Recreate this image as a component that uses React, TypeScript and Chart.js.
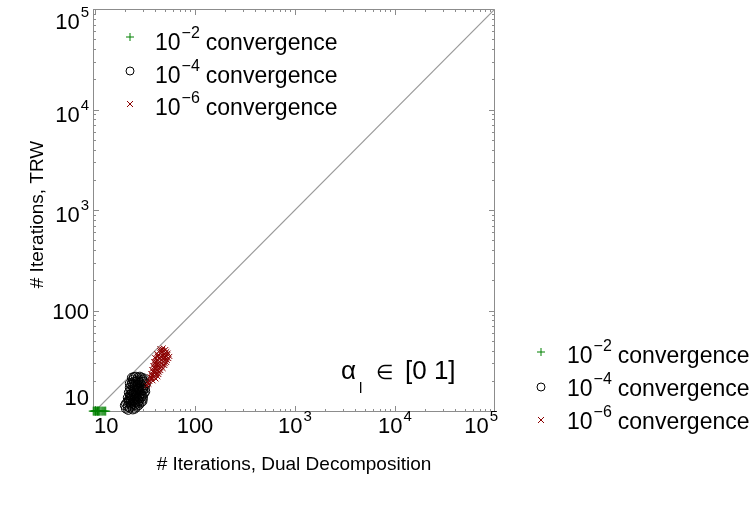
import { useEffect, useRef } from 'react';
import { Chart, registerables } from 'chart.js';

Chart.register(...registerables);

// ---- axis / tick data ----
const axisMin = 9.55;
const axisMinY = 9.8;
const axisMax = 100000;
const majorTicks = [10, 100, 1000, 10000, 100000];
const tickBase = ['10', '100', '10', '10', '10'];
const tickSup = ['', '', '3', '4', '5'];
const minorMultipliers = [2, 3, 4, 5, 6, 7, 8, 9];

// ---- legend data ----
const legendSup = ['\u22122', '\u22124', '\u22126'];
const legendText = 'convergence';

// ---- series (x = # iterations dual decomposition, y = # iterations TRW) ----
const conv2: [number, number][] = [
  [9.6, 10], [9.8, 10], [10.0, 10], [10.2, 10], [10.4, 10], [10.6, 10], [10.8, 10],
  [11.0, 10], [11.2, 10], [11.5, 10], [11.8, 10], [12.1, 10], [12.5, 10], [12.8, 10],
  [10.1, 10], [10.7, 10],
];

const conv4: [number, number][] = [
  [23.4, 21.5], [25.6, 22.0], [28.1, 22.0], [30.8, 21.1],
  [22.3, 18.8], [24.5, 19.7], [26.8, 19.2], [29.4, 19.7], [32.3, 18.8],
  [22.3, 17.1], [23.9, 17.5], [26.2, 17.1], [28.8, 17.5], [31.5, 16.7],
  [21.8, 15.3], [23.4, 15.6], [25.6, 15.3], [28.1, 15.6], [30.8, 14.9],
  [21.3, 13.6], [22.9, 13.9], [25.1, 13.6], [27.5, 13.9], [30.1, 13.3],
  [20.4, 11.9], [21.8, 12.4], [23.9, 12.2], [26.2, 12.4], [28.8, 12.2],
  [20.4, 10.6], [22.3, 10.8], [23.9, 10.4], [26.2, 11.1],
  [22.9, 11.6], [24.5, 14.6], [26.8, 16.4], [29.4, 14.3], [25.1, 18.4],
  [24.5, 21.8], [26.8, 21.5], [29.4, 21.5], [23.4, 19.2], [25.6, 19.7], [28.1, 19.2],
  [30.8, 19.7], [31.5, 18.0], [23.1, 18.2], [25.1, 17.5], [27.5, 17.1], [30.1, 17.1],
  [22.6, 16.2], [24.5, 16.0], [27.5, 16.0], [29.4, 16.0], [31.8, 15.6], [22.3, 14.5],
  [24.0, 15.0], [26.2, 14.6], [28.8, 14.9], [30.1, 14.0], [21.8, 13.0], [23.9, 13.3],
  [26.2, 13.3], [28.8, 13.6], [21.1, 12.2], [22.9, 12.8], [25.1, 12.4], [27.5, 12.6],
  [29.8, 12.5], [21.3, 11.1], [23.1, 11.3], [25.1, 11.5], [27.5, 11.5], [21.5, 10.3],
  [25.1, 10.6], [19.9, 11.4],
  [24.0, 20.6], [27.0, 20.3], [29.9, 20.4], [24.2, 18.6], [26.5, 18.3], [28.9, 18.4],
  [24.8, 16.7], [27.1, 16.6], [30.3, 16.2], [23.0, 14.8], [25.8, 14.2], [27.9, 14.6],
  [22.4, 13.4], [24.6, 13.0], [27.0, 13.1], [24.4, 11.8], [26.8, 11.9], [22.6, 11.9],
];

const conv6: [number, number][] = [
  [44.5, 40.0], [48.8, 40.0], [52.2, 39.1],
  [41.5, 37.3], [45.5, 37.3], [49.9, 36.5], [53.4, 36.5],
  [39.6, 34.1], [42.5, 34.9], [46.6, 34.1], [51.0, 34.1], [54.7, 33.3],
  [38.7, 31.1], [41.5, 31.8], [44.5, 31.1], [48.8, 31.1], [52.2, 30.4],
  [37.9, 28.4], [40.6, 29.0], [43.5, 28.4], [46.6, 27.7], [49.9, 28.4],
  [37.0, 25.9], [39.6, 26.5], [42.5, 25.9], [45.5, 25.3],
  [36.2, 23.6], [38.7, 24.2], [41.5, 23.6], [43.5, 23.1],
  [35.4, 22.0], [37.0, 21.1], [39.6, 21.5],
  [33.8, 19.2], [33.0, 17.9], [35.4, 19.7],
  [46.6, 39.1], [50.5, 38.0], [43.5, 36.0], [47.7, 35.6], [51.6, 35.2], [40.6, 33.3],
  [44.5, 33.3], [48.8, 33.3], [53.0, 32.0], [39.6, 30.0], [43.0, 30.0], [46.6, 29.7],
  [50.5, 29.6], [38.7, 27.2], [41.5, 27.5], [45.0, 26.8], [48.0, 26.5], [37.9, 24.8],
  [40.6, 24.8], [44.0, 24.4], [37.0, 22.6], [39.6, 22.6], [42.5, 22.0], [36.2, 20.6],
  [38.0, 20.0], [34.6, 18.5], [44.5, 42.0], [48.0, 42.5], [51.0, 41.0], [55.9, 35.0],
  [46.0, 38.3], [49.4, 37.2], [42.0, 35.5], [45.4, 35.0], [50.0, 34.6], [41.8, 32.5],
  [46.2, 32.4], [50.4, 32.4], [40.5, 31.0], [45.5, 30.2], [42.2, 28.8], [47.8, 28.9],
  [39.8, 27.9], [43.8, 27.3], [39.0, 25.5], [42.8, 25.0], [38.2, 23.0], [40.8, 23.2],
  [36.6, 21.6], [40.7, 20.9], [47.3, 41.1], [53.8, 37.8],
];

const diagonal: [number, number][] = [[axisMin, axisMin], [axisMax, axisMax]];

const FONT = "'Liberation Sans', Arial, Helvetica, sans-serif";
const GREEN = '#008000';
const RED = '#8b0000';
const AXIS = '#8c8c8c';

function toPts(a: [number, number][]) {
  return a.map(([x, y]) => ({ x, y }));
}

function drawSupText(
  ctx: CanvasRenderingContext2D, x: number, y: number, base: string, sup: string,
  align: 'left' | 'center' | 'right', baseSize: number, supSize: number, raise: number,
) {
  ctx.font = `${baseSize}px ${FONT}`;
  const wb = ctx.measureText(base).width;
  ctx.font = `${supSize}px ${FONT}`;
  const ws = sup ? ctx.measureText(sup).width + 1 : 0;
  const total = wb + ws;
  let sx = x;
  if (align === 'center') sx = x - total / 2;
  else if (align === 'right') sx = x - total;
  ctx.textAlign = 'left';
  ctx.textBaseline = 'alphabetic';
  ctx.font = `${baseSize}px ${FONT}`;
  ctx.fillText(base, sx, y);
  if (sup) {
    ctx.font = `${supSize}px ${FONT}`;
    ctx.fillText(sup, sx + wb + 1, y - raise);
  }
  return total;
}

function drawMarker(ctx: CanvasRenderingContext2D, kind: number, x: number, y: number) {
  ctx.save();
  ctx.lineWidth = 1;
  ctx.beginPath();
  if (kind === 0) {
    ctx.strokeStyle = GREEN;
    ctx.moveTo(x - 4, y); ctx.lineTo(x + 4, y);
    ctx.moveTo(x, y - 4); ctx.lineTo(x, y + 4);
  } else if (kind === 1) {
    ctx.strokeStyle = '#000';
    ctx.arc(x, y, 4, 0, Math.PI * 2);
  } else {
    ctx.strokeStyle = RED;
    ctx.moveTo(x - 3, y - 3); ctx.lineTo(x + 3, y + 3);
    ctx.moveTo(x + 3, y - 3); ctx.lineTo(x - 3, y + 3);
  }
  ctx.stroke();
  ctx.restore();
}

function drawLegend(ctx: CanvasRenderingContext2D, mx: number, tx: number, markerYs: number[], baseYs: number[]) {
  for (let i = 0; i < legendSup.length; i++) {
    drawMarker(ctx, i, mx, markerYs[i]);
    ctx.fillStyle = '#000';
    const w = drawSupText(ctx, tx, baseYs[i], '10', legendSup[i], 'left', 23, 16, 12);
    ctx.font = `23px ${FONT}`;
    ctx.fillText(legendText, tx + w + 6, baseYs[i]);
  }
}

const matlabPlugin = {
  id: 'matlabAxes',
  beforeDatasetsDraw(chart: any) {
    const { ctx, chartArea: a, scales } = chart;
    const xs = scales.x;
    const ys = scales.y;
    ctx.save();
    ctx.strokeStyle = AXIS;
    ctx.lineWidth = 1;
    ctx.strokeRect(a.left + 0.5, a.top + 0.5, a.right - a.left - 1, a.bottom - a.top - 1);
    const all: { v: number; major: boolean }[] = [];
    majorTicks.forEach((d) => {
      all.push({ v: d, major: true });
      if (d < axisMax) minorMultipliers.forEach((m) => all.push({ v: d * m, major: false }));
    });
    ctx.beginPath();
    all.forEach(({ v, major }) => {
      const len = major ? 6 : 3;
      const px = Math.round(xs.getPixelForValue(v)) + 0.5;
      if (px >= a.left && px <= a.right) {
        ctx.moveTo(px, a.bottom); ctx.lineTo(px, a.bottom - len);
        ctx.moveTo(px, a.top); ctx.lineTo(px, a.top + len);
      }
      const py = Math.round(ys.getPixelForValue(v)) + 0.5;
      if (py >= a.top && py <= a.bottom) {
        ctx.moveTo(a.left, py); ctx.lineTo(a.left + len, py);
        ctx.moveTo(a.right, py); ctx.lineTo(a.right - len, py);
      }
    });
    ctx.stroke();
    ctx.restore();
  },
  afterDatasetsDraw(chart: any) {
    const { ctx, chartArea: a, scales } = chart;
    const xs = scales.x;
    const ys = scales.y;
    ctx.save();
    ctx.fillStyle = '#000';
    // x tick labels
    majorTicks.forEach((v, i) => {
      const px = xs.getPixelForValue(v);
      if (i === 0) drawSupText(ctx, a.left + 1, 433, tickBase[i], tickSup[i], 'left', 22, 15, 12);
      else if (i === majorTicks.length - 1) drawSupText(ctx, a.right + 3, 433, tickBase[i], tickSup[i], 'right', 22, 15, 12);
      else drawSupText(ctx, px, 433, tickBase[i], tickSup[i], 'center', 22, 15, 12);
    });
    // y tick labels
    majorTicks.forEach((v, i) => {
      const py = ys.getPixelForValue(v);
      let base = py + (tickSup[i] ? 12 : 8);
      if (i === 0) base = py - 6;
      if (i === majorTicks.length - 1) base = py + 20;
      drawSupText(ctx, 89, base, tickBase[i], tickSup[i], 'right', 22, 15, 12);
    });
    // axis titles
    ctx.font = `19px ${FONT}`;
    ctx.textAlign = 'center';
    ctx.textBaseline = 'middle';
    ctx.fillText('# Iterations, Dual Decomposition', (a.left + a.right) / 2, 465);
    ctx.save();
    ctx.translate(38, (a.top + a.bottom) / 2 + 4);
    ctx.rotate(-Math.PI / 2);
    ctx.fillText('# Iterations, TRW', 0, 0);
    ctx.restore();
    // annotation
    ctx.textAlign = 'left';
    ctx.textBaseline = 'alphabetic';
    ctx.font = `26px ${FONT}`;
    ctx.fillText('\u03b1', 341, 379);
    ctx.font = `15px ${FONT}`;
    ctx.fillText('l', 359, 393);
    ctx.font = `20px ${FONT}`;
    ctx.fillText('\u2208', 376, 379);
    ctx.font = `26px ${FONT}`;
    ctx.fillText('[0 1]', 405, 379);
    // legends
    drawLegend(ctx, 130, 155, [37, 71, 104], [50, 83, 115]);
    drawLegend(ctx, 541, 567, [352, 387, 420], [363, 396, 429]);
    ctx.restore();
  },
};

export default function App() {
  const ref = useRef<HTMLCanvasElement | null>(null);
  useEffect(() => {
    document.body.style.margin = '0';
    const canvas = ref.current!;
    const chart = new Chart(canvas, {
      type: 'scatter',
      data: {
        datasets: [
          {
            label: 'diagonal', data: toPts(diagonal), showLine: true, borderColor: '#999999',
            borderWidth: 1.2, pointRadius: 0, order: 4,
          },
          {
            label: '10^-2 convergence', data: toPts(conv2), pointStyle: 'cross', pointRadius: 4.5,
            pointBorderColor: GREEN, pointBackgroundColor: GREEN, pointBorderWidth: 1, order: 3, clip: false,
          },
          {
            label: '10^-4 convergence', data: toPts(conv4), pointStyle: 'circle', pointRadius: 4.5,
            pointBorderColor: '#000', pointBackgroundColor: 'rgba(0,0,0,0)', pointBorderWidth: 1, order: 2, clip: false,
          },
          {
            label: '10^-6 convergence', data: toPts(conv6), pointStyle: 'crossRot', pointRadius: 3.5,
            pointBorderColor: RED, pointBackgroundColor: RED, pointBorderWidth: 1, order: 1, clip: false,
          },
        ] as any,
      },
      options: {
        animation: false,
        responsive: false,
        devicePixelRatio: 1,
        layout: { padding: { left: 93, right: 261, top: 9, bottom: 93 } },
        plugins: { legend: { display: false }, tooltip: { enabled: false } },
        scales: {
          x: { type: 'logarithmic', min: axisMin, max: axisMax, display: false },
          y: { type: 'logarithmic', min: axisMinY, max: axisMax, display: false },
        },
      },
      plugins: [matlabPlugin],
    });
    return () => chart.destroy();
  }, []);
  return <canvas ref={ref} width={756} height={505} style={{ display: 'block' }} />;
}
